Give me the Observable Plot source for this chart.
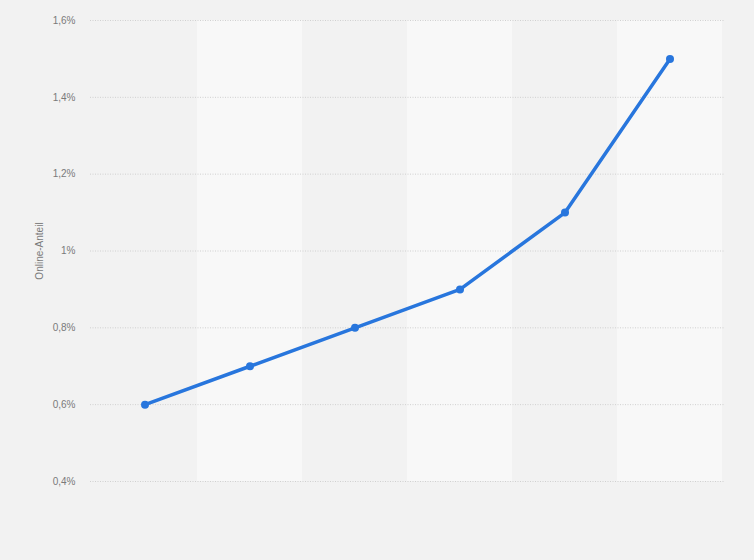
<!DOCTYPE html>
<html>
<head>
<meta charset="utf-8">
<script src="https://cdn.jsdelivr.net/npm/d3@7"></script>
<script src="https://cdn.jsdelivr.net/npm/@observablehq/plot@0.6"></script>
<style>
  html, body { margin: 0; padding: 0; background: #f2f2f2; }
  #chart svg { display: block; }
</style>
</head>
<body>
<div id="chart"></div>
<script>
const categories = ["1", "2", "3", "4", "5", "6"];
const shares = [0.6, 0.7, 0.8, 0.9, 1.1, 1.5];
const yTicks = [0.4, 0.6, 0.8, 1.0, 1.2, 1.4, 1.6];
const yLabel = "Online-Anteil";

const data = categories.map((c, i) => ({cat: c, value: shares[i]}));
const bandCats = categories.filter((c, i) => i % 2 === 1);
const yMin = yTicks[0], yMax = yTicks[yTicks.length - 1];

const fmt = d => String(+d.toFixed(1)).replace(".", ",") + "%";

const chart = Plot.plot({
  width: 754,
  height: 560,
  marginLeft: 90,
  marginRight: 30,
  marginTop: 20,
  marginBottom: 79,
  style: {background: "#f2f2f2", fontFamily: "'Liberation Sans', Arial, sans-serif", fontSize: "10px", color: "#7a7a7a"},
  x: {domain: categories, padding: 0, axis: null},
  y: {domain: [yMin, yMax], ticks: yTicks, tickFormat: fmt, tickSize: 0, tickPadding: 15, label: yLabel, labelAnchor: "center", labelArrow: "none", labelOffset: 55},
  marks: [
    Plot.barY(bandCats, {x: d => d, y1: yMin, y2: yMax, fill: "#f8f8f8", inset: 0}),
    Plot.ruleY(yTicks, {stroke: "#d0d0d0", strokeDasharray: "1,1.5", strokeWidth: 1}),
    Plot.lineY(data, {x: "cat", y: "value", stroke: "#2876dd", strokeWidth: 3.5, curve: "linear"}),
    Plot.dot(data, {x: "cat", y: "value", fill: "#2876dd", r: 4})
  ]
});
document.getElementById("chart").appendChild(chart);
</script>
</body>
</html>
